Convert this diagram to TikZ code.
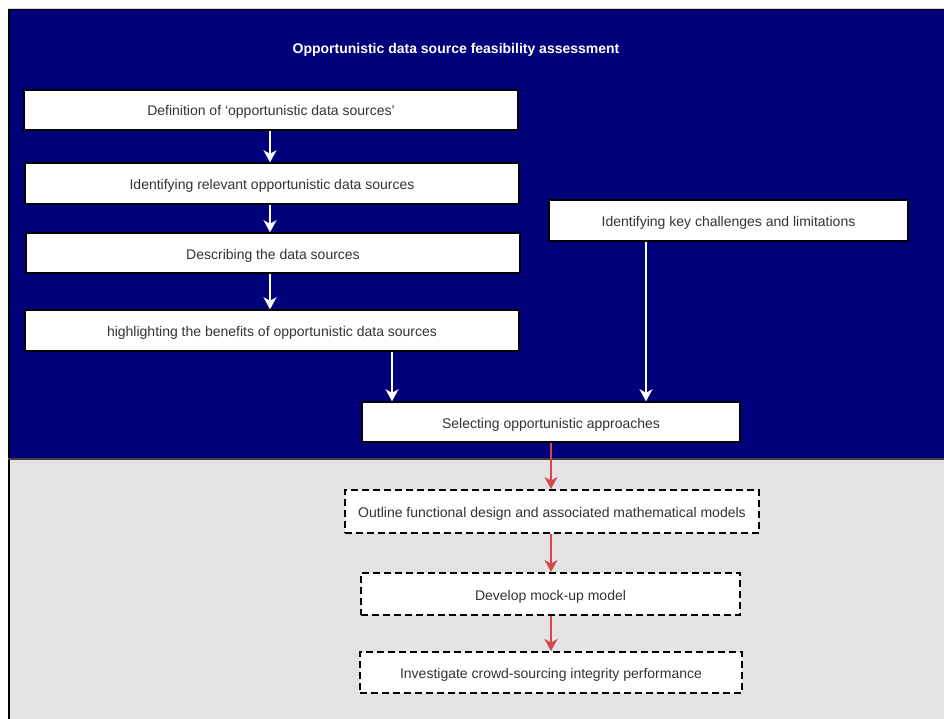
\documentclass[tikz,border=0pt]{standalone}
\usepackage{fontspec}
\setmainfont{Liberation Sans}
\usetikzlibrary{arrows.meta}
\definecolor{navy}{RGB}{0,0,122}
\definecolor{panelgray}{RGB}{227,227,227}
\definecolor{txt}{RGB}{51,51,51}
\definecolor{flowred}{RGB}{214,72,72}
\tikzset{
  boxtext/.style={text=txt, inner sep=0pt, text height=13pt, text depth=1pt,
    font=\fontsize{14}{16}\selectfont, anchor=center},
  stagebox/.style={boxtext, draw=black, line width=1.5pt, fill=white},
  planbox/.style={boxtext, draw=black, line width=2pt, dash pattern=on 7pt off 4pt, fill=white},
  whitearrow/.style={draw=white, line width=1.5pt, -{Stealth[length=12pt,width=13pt,inset=3.5pt]}},
  redarrow/.style={draw=flowred, line width=1.5pt, -{Stealth[length=12pt,width=13pt,inset=3.5pt]}},
}
\begin{document}
\begin{tikzpicture}[x=1pt, y=-1pt]
\useasboundingbox (0,0) rectangle (944,719);
% background panels
\fill[white] (0,0) rectangle (944,719);
\fill[navy] (8,9) rectangle (944,459);
\fill[panelgray] (8,459) rectangle (944,719);
\draw[black, line width=1.5pt] (8.75,719) -- (8.75,9.75) -- (944,9.75);
\draw[black!75, line width=1.2pt] (8,459) -- (944,459);
\draw[black!15, line width=0.8pt] (8,8) -- (944,8);

% title
\node[text=white, font=\bfseries\fontsize{14}{16}\selectfont] (title) at (456,49.5)
  {Opportunistic data source feasibility assessment};

% assessment stages
\node[stagebox, minimum width=494pt, minimum height=40pt] (b1) at (271,110)
  {Definition of ‘opportunistic data sources’};
\node[stagebox, minimum width=494pt, minimum height=41pt] (b2) at (272,183.5)
  {Identifying relevant opportunistic data sources};
\node[stagebox, minimum width=494pt, minimum height=40pt] (b3) at (273,253)
  {Describing the data sources};
\node[stagebox, minimum width=494pt, minimum height=41pt] (b4) at (272,330.5)
  {highlighting the benefits of opportunistic data sources};
\node[stagebox, minimum width=359pt, minimum height=41pt] (b5) at (728.5,220.5)
  {Identifying key challenges and limitations};
\node[stagebox, minimum width=378pt, minimum height=40pt] (b6) at (551,422)
  {Selecting opportunistic approaches};

% follow-up work
\node[planbox, minimum width=414pt, minimum height=43pt] (b7) at (552,511.5)
  {Outline functional design and associated mathematical models};
\node[planbox, minimum width=379pt, minimum height=42pt] (b8) at (550.5,594)
  {Develop mock-up model};
\node[planbox, minimum width=382pt, minimum height=41pt] (b9) at (551,672.5)
  {Investigate crowd-sourcing integrity performance};

% connectors
\draw[whitearrow] ([xshift=-1pt]b1.south) -- ([xshift=-2pt]b2.north);
\draw[whitearrow] ([xshift=-2pt]b2.south) -- ([xshift=-3pt]b3.north);
\draw[whitearrow] ([xshift=-3pt]b3.south) -- ([xshift=-2pt]b4.north);
\draw[whitearrow] ([xshift=120pt]b4.south) -- ([xshift=-159pt]b6.north);
\draw[whitearrow] ([xshift=-82.5pt]b5.south) -- ([xshift=95pt]b6.north);
\draw[redarrow] (b6.south) -- ([xshift=-1pt]b7.north);
\draw[redarrow] ([xshift=-1pt]b7.south) -- ([xshift=0.5pt]b8.north);
\draw[redarrow] ([xshift=0.5pt]b8.south) -- (b9.north);
\end{tikzpicture}
\end{document}
